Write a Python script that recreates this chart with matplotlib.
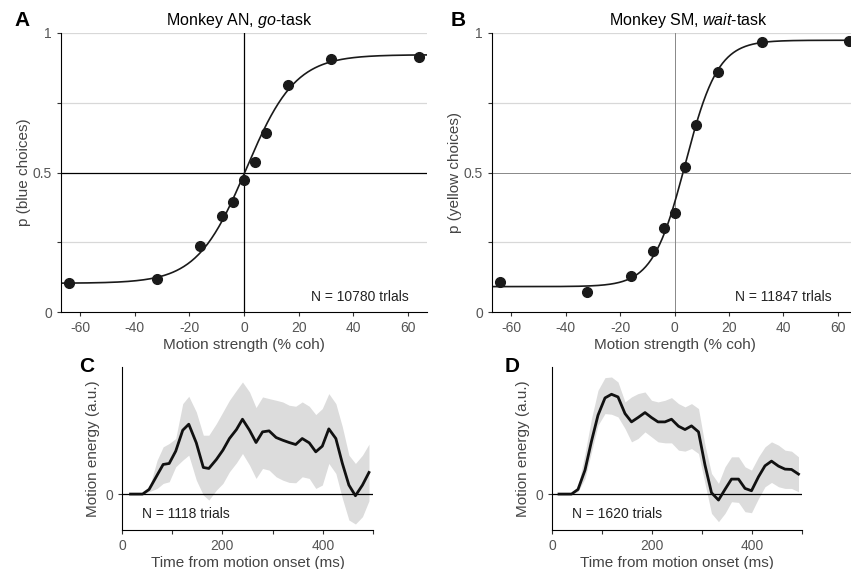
import numpy as np
import matplotlib
matplotlib.use('Agg')
import matplotlib.pyplot as plt

plt.rcParams['font.family'] = ['Liberation Sans', 'DejaVu Sans']
plt.rcParams['mathtext.fontset'] = 'custom'
plt.rcParams['mathtext.rm'] = 'Liberation Sans'
plt.rcParams['mathtext.it'] = 'Liberation Sans:italic'
plt.rcParams['axes.unicode_minus'] = False

# 心理测量曲线数据 (A, B)
coh = [-64, -32, -16, -8, -4, 0, 4, 8, 16, 32, 64]
p_blue = [0.103, 0.117, 0.238, 0.344, 0.396, 0.472, 0.539, 0.642, 0.812, 0.907, 0.914]
p_yellow = [0.106, 0.071, 0.130, 0.220, 0.300, 0.356, 0.519, 0.671, 0.859, 0.969, 0.971]
# logistic fit params: lower, upper, midpoint, slope
fit_an = (0.103, 0.922, 0.8, 9.0)
fit_sm = (0.091, 0.974, 4.0, 6.0)

# 运动能量数据 (C, D)
t_an = [17, 30, 41, 54, 70, 82, 94, 107, 121, 133, 148, 162, 173, 188, 201, 214, 228, 240, 254,
        267, 280, 293, 307, 320, 333, 346, 359, 373, 386, 399, 412, 426, 439, 452, 465, 479, 492]
me_an = [0, 0, 0, 0.14, 0.57, 0.89, 0.92, 1.29, 1.92, 2.10, 1.54, 0.80, 0.77, 1.04, 1.32, 1.67, 1.94,
         2.25, 1.92, 1.55, 1.87, 1.90, 1.70, 1.62, 1.55, 1.49, 1.67, 1.54, 1.27, 1.44, 1.96, 1.67,
         0.92, 0.27, -0.05, 0.27, 0.65]
hi_an = [0, 0, 0.02, 0.17, 1.02, 1.42, 1.52, 1.67, 2.72, 2.94, 2.47, 1.77, 1.77, 2.12, 2.47, 2.82,
         3.12, 3.37, 3.07, 2.60, 2.92, 2.87, 2.82, 2.77, 2.67, 2.64, 2.77, 2.64, 2.39, 2.57, 3.02,
         2.72, 2.02, 1.17, 0.92, 1.17, 1.50]
lo_an = [0, 0, 0, 0.07, 0.17, 0.32, 0.37, 0.82, 1.02, 1.17, 0.42, -0.03, -0.18, 0.12, 0.32, 0.67,
         0.94, 1.22, 0.87, 0.47, 0.77, 0.72, 0.52, 0.42, 0.35, 0.34, 0.52, 0.47, 0.17, 0.27, 0.92,
         0.62, -0.13, -0.78, -0.90, -0.68, -0.20]

t_sm = [14, 27, 39, 52, 66, 79, 92, 106, 119, 132, 146, 159, 172, 186, 199, 212, 226, 239, 253,
        266, 279, 293, 306, 319, 333, 346, 359, 373, 386, 399, 413, 426, 439, 453, 466, 479, 493]
me_sm = [0, 0, 0, 0.14, 0.72, 1.59, 2.37, 2.89, 3.00, 2.92, 2.42, 2.17, 2.30, 2.45, 2.30, 2.17,
         2.17, 2.25, 2.04, 1.94, 2.05, 1.87, 0.87, 0.04, -0.18, 0.14, 0.45, 0.45, 0.17, 0.10, 0.52,
         0.85, 0.99, 0.84, 0.75, 0.74, 0.60]
hi_sm = [0, 0, 0.02, 0.22, 1.22, 2.27, 3.12, 3.50, 3.52, 3.37, 2.77, 2.92, 3.02, 3.07, 2.82, 2.77,
         2.82, 2.90, 2.72, 2.62, 2.72, 2.57, 1.47, 0.62, 0.32, 0.82, 1.12, 1.12, 0.82, 0.72, 1.12,
         1.42, 1.57, 1.47, 1.32, 1.29, 1.12]
lo_sm = [0, 0, 0, 0.07, 0.47, 1.27, 2.07, 2.42, 2.40, 2.32, 1.97, 1.57, 1.67, 1.87, 1.72, 1.57,
         1.54, 1.54, 1.32, 1.29, 1.37, 1.22, 0.32, -0.58, -0.83, -0.58, -0.23, -0.25, -0.53, -0.56,
         -0.13, 0.22, 0.35, 0.22, 0.17, 0.17, 0.07]

W, H = 851, 569
fig = plt.figure(figsize=(W / 100, H / 100), dpi=100)

def box(l, r, t, b):
    return [l / W, 1 - b / H, (r - l) / W, (b - t) / H]

tick_col = '#555555'
lab_col = '#444444'

def psy_panel(ax, p, fit, ylabel, ref_col, ref_lw):
    for yy in [0.25, 0.75, 1.0]:
        ax.axhline(yy, color='#d8d8d8', lw=0.9, zorder=0)
    ax.axhline(0.5, color=ref_col, lw=ref_lw, zorder=1)
    ax.axvline(0, color=ref_col, lw=ref_lw, zorder=1)
    xs = np.linspace(-67, 67, 400)
    a, b, x0, s = fit
    ax.plot(xs, a + (b - a) / (1 + np.exp(-(xs - x0) / s)), color='#1a1a1a', lw=1.2, zorder=2)
    ax.plot(coh, p, 'o', color='#1a1a1a', ms=7, zorder=3, clip_on=False)
    ax.set_xlim(-67, 67)
    ax.set_ylim(0, 1)
    ax.set_xticks([-60, -40, -20, 0, 20, 40, 60])
    ax.set_yticks([0, 0.5, 1])
    ax.set_yticklabels(['0', '0.5', '1'])
    ax.set_yticks([0.25, 0.75], minor=True)
    for s_ in ['top', 'right']:
        ax.spines[s_].set_visible(False)
    ax.tick_params(which='both', direction='out', length=3, width=0.8, colors='#333333',
                   labelcolor=tick_col, labelsize=10)
    ax.set_xlabel('Motion strength (% coh)', color=lab_col, fontsize=11, labelpad=2)
    ax.set_ylabel(ylabel, color=lab_col, fontsize=11, labelpad=1.5)

axA = fig.add_axes(box(61, 427, 33, 312))
psy_panel(axA, p_blue, fit_an, 'p (blue choices)', 'black', 0.9)
axA.text(0.95, 0.03, 'N = 10780 trlals', transform=axA.transAxes, ha='right', va='bottom',
         fontsize=10, color='#222222')

axB = fig.add_axes(box(492, 857, 33, 312))
psy_panel(axB, p_yellow, fit_sm, 'p (yellow choices)', '#888888', 0.7)
axB.text(0.93, 0.03, 'N = 11847 trlals', transform=axB.transAxes, ha='right', va='bottom',
         fontsize=10, color='#222222')

def me_panel(ax, t, m, lo, hi, label):
    ax.fill_between(t, lo, hi, color='#dcdcdc', lw=0, zorder=1)
    ax.axhline(0, color='black', lw=0.9, zorder=2)
    ax.plot(t, m, color='#111111', lw=2.0, zorder=3)
    ax.set_xlim(0, 500)
    ax.set_ylim(-1.08, 3.82)
    ax.set_xticks([0, 100, 200, 300, 400, 500])
    ax.set_xticklabels(['0', '', '200', '', '400', ''])
    ax.set_yticks([0])
    for s_ in ['top', 'right']:
        ax.spines[s_].set_visible(False)
    ax.tick_params(direction='out', length=3, width=0.8, colors='#333333',
                   labelcolor=tick_col, labelsize=10)
    ax.set_xlabel('Time from motion onset (ms)', color=lab_col, fontsize=11, labelpad=2)
    ax.set_ylabel('Motion energy (a.u.)', color=lab_col, fontsize=11, labelpad=4)
    ax.text(0.08, 0.1, label, transform=ax.transAxes, ha='left', va='center',
            fontsize=10, color='#222222')

axC = fig.add_axes(box(122, 373, 367, 530))
me_panel(axC, t_an, me_an, lo_an, hi_an, 'N = 1118 trials')
axD = fig.add_axes(box(552, 802, 367, 530))
me_panel(axD, t_sm, me_sm, lo_sm, hi_sm, 'N = 1620 trials')

# 标题与面板字母
fig.text(239 / W, 1 - 20 / H, r'Monkey AN, $\it{go}$-task', ha='center', va='center', fontsize=11.5)
fig.text(688 / W, 1 - 20 / H, r'Monkey SM, $\it{wait}$-task', ha='center', va='center', fontsize=11.5)
for lab, x, y in [('A', 22, 20), ('B', 458, 20), ('C', 87, 366), ('D', 512, 367)]:
    fig.text(x / W, 1 - y / H, lab, ha='center', va='center', fontsize=15, fontweight='bold')

fig.savefig('out.png', dpi=100)
